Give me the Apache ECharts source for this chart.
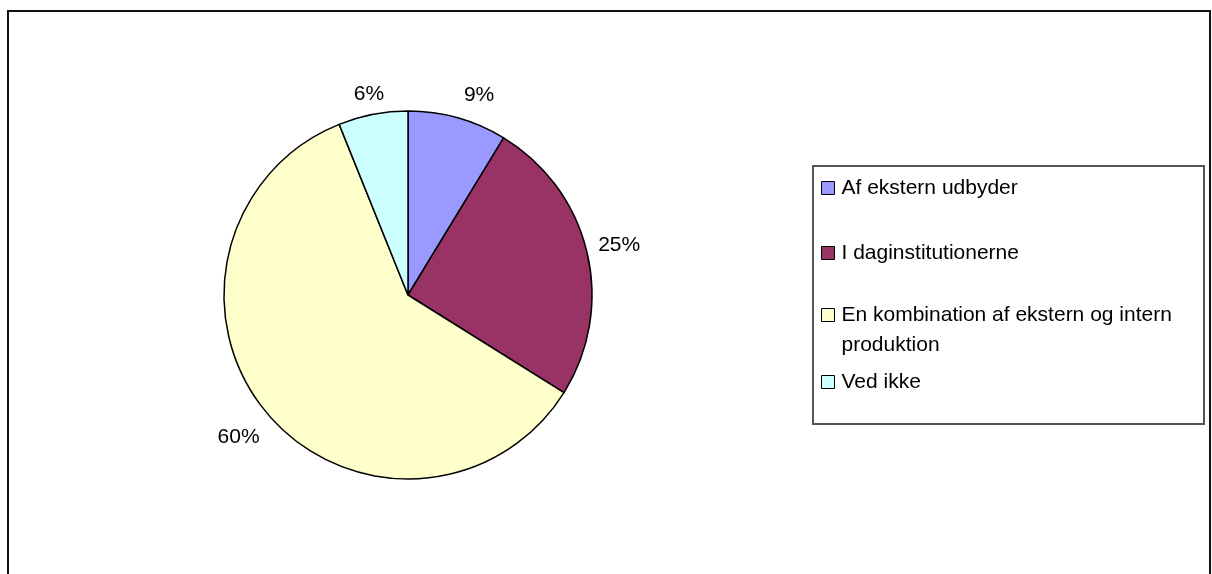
<!DOCTYPE html>
<html>
<head>
<meta charset="utf-8">
<script src="https://cdn.jsdelivr.net/npm/echarts@6/dist/echarts.min.js"></script>
<style>
  html, body { margin: 0; padding: 0; background: #fff; }
  #chart { width: 1212px; height: 574px; }
</style>
</head>
<body>
<div id="chart"></div>
<script>
// data
const categories = [
  "Af ekstern udbyder",
  "I daginstitutionerne",
  "En kombination af ekstern og intern produktion",
  "Ved ikke",
];
const shares = [8.7, 25.2, 60.0, 6.1];
const percentLabels = ["9%", "25%", "60%", "6%"];
const legendText = [
  "Af ekstern udbyder",
  "I daginstitutionerne",
  "En kombination af ekstern og intern\nproduktion",
  "Ved ikke",
];
const colors = ["#9999ff", "#993366", "#ffffcc", "#ccffff"];

const FONT = "Liberation Sans, Arial, sans-serif";
const LH = 30; // legend line height
const legendCenters = [188, 253, 315, 382]; // y of each legend row
const labelGap = [23, 33, 37, 21]; // distance of each % label from the rim
const labelAlign = ["left", "center", "center", "center"];

let chart = echarts.init(document.getElementById("chart"));

let legends = categories.map((name, i) => {
  let multi = legendText[i].indexOf("\n") >= 0;
  return {
    data: [name],
    orient: "vertical",
    left: 821,
    // multi-line item: leading empty line keeps the icon level with line one
    top: multi ? legendCenters[i] - 1.5 * LH : legendCenters[i] - LH / 2,
    itemWidth: 13,
    itemHeight: 13,
    selectedMode: false,
    padding: 0,
    icon: "rect",
    itemStyle: { borderColor: "#000", borderWidth: 1 },
    formatter: () => (multi ? "\n" : "") + legendText[i],
    textStyle: {
      fontFamily: FONT,
      fontSize: 21,
      color: "#000",
      lineHeight: LH,
      padding: [0, 0, 0, 2],
    },
  };
});

let options = {
  animation: false,
  color: colors,
  graphic: [
    {
      type: "rect",
      shape: { x: 8, y: 11, width: 1202, height: 620 },
      style: { fill: "none", stroke: "#111", lineWidth: 2 },
      z: -1,
    },
    {
      type: "rect",
      shape: { x: 813, y: 166, width: 391, height: 258 },
      style: { fill: "#fff", stroke: "#555", lineWidth: 2 },
      z: -1,
    },
  ],
  legend: legends,
  series: [
    {
      type: "pie",
      center: [408, 295],
      radius: 184,
      startAngle: 90,
      clockwise: true,
      avoidLabelOverlap: false,
      silent: true,
      itemStyle: { borderColor: "#000", borderWidth: 1.5 },
      label: {
        show: true,
        position: "outside",
        fontFamily: FONT,
        fontSize: 21,
        color: "#000",
        distanceToLabelLine: 0,
        formatter: (p) => percentLabels[p.dataIndex],
      },
      labelLayout: (p) => ({ align: labelAlign[p.dataIndex] }),
      labelLine: { show: false, length: 30, length2: 0 },
      data: categories.map((name, i) => ({
        name: name,
        value: shares[i],
        labelLine: { length: labelGap[i], length2: 0 },
      })),
    },
  ],
};

chart.setOption(options);
</script>
</body>
</html>
